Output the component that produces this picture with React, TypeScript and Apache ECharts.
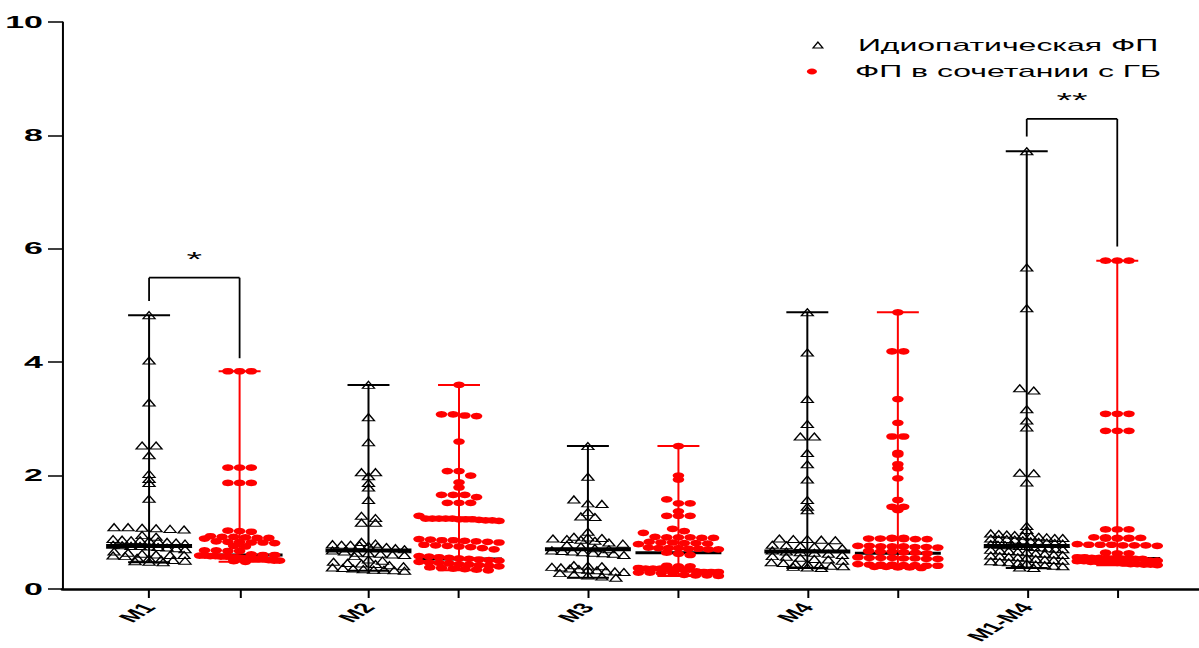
import React, { useEffect, useRef } from "react";
import * as echarts from "echarts";

// ---------- data ----------
const CATEGORIES = ["M1", "M2", "M3", "M4", "M1-M4"];
const SERIES_NAMES = ["Идиопатическая ФП", "ФП в сочетании с ГБ"];

const IDIO_M1 = [4.83, 4.03, 3.29, 2.53, 2.53, 2.36, 2.03, 1.94, 1.87, 1.59,
  1.09, 1.09, 1.07, 1.06, 1.05, 1.08,
  0.95, 0.92, 0.88, 0.87, 0.86, 0.86, 0.85, 0.84, 0.83, 0.82,
  0.8, 0.78, 0.77, 0.76, 0.76, 0.75, 0.74, 0.73, 0.72, 0.7,
  0.66, 0.64, 0.62, 0.61, 0.6, 0.6, 0.59, 0.58,
  0.55, 0.54, 0.52, 0.51, 0.5, 0.49, 0.48, 0.47];
const IDIO_M2 = [3.6, 3.03, 2.59, 2.06, 2.06, 1.99, 1.87, 1.79, 1.57, 1.29, 1.25, 1.17, 1.17,
  0.83, 0.8, 0.79, 0.78, 0.78, 0.77, 0.76, 0.75, 0.74, 0.72,
  0.7, 0.68, 0.66, 0.64, 0.63, 0.62, 0.61, 0.6, 0.58,
  0.52, 0.5, 0.48, 0.46, 0.45, 0.44, 0.42,
  0.4, 0.38, 0.37, 0.36, 0.35, 0.34, 0.34, 0.33, 0.32];
const IDIO_M3 = [2.52, 1.98, 1.58, 1.51, 1.5, 1.36, 1.28, 1.27, 1.01,
  0.92, 0.91, 0.9, 0.89, 0.88, 0.87, 0.85, 0.82, 0.8, 0.78, 0.75,
  0.72, 0.7, 0.68, 0.67, 0.66, 0.65, 0.64, 0.63, 0.62, 0.6,
  0.42, 0.41, 0.4, 0.39, 0.38, 0.36, 0.35, 0.34, 0.33, 0.32, 0.31, 0.3, 0.28, 0.26, 0.24, 0.22, 0.2];
const IDIO_M4 = [4.88, 4.17, 3.35, 2.91, 2.69, 2.69, 2.4, 2.2, 1.93, 1.57, 1.45, 1.39,
  0.89, 0.88, 0.88, 0.87, 0.86,
  0.78, 0.77, 0.76, 0.75, 0.74, 0.72,
  0.68, 0.66, 0.65, 0.64, 0.62, 0.6, 0.58, 0.57, 0.55, 0.53, 0.52, 0.5,
  0.47, 0.46, 0.45, 0.44, 0.42, 0.41, 0.4, 0.39, 0.38, 0.37];
const IDIO_ALL = [7.72, 5.67, 4.95, 3.54, 3.5, 3.17, 2.97, 2.85, 2.05, 2.04, 1.88, 1.11, 1.04,
  0.98, 0.97, 0.96, 0.95, 0.94, 0.93, 0.92, 0.91, 0.9, 0.9, 0.89, 0.88, 0.88, 0.87, 0.86,
  0.84, 0.83, 0.82, 0.81, 0.8, 0.79, 0.78, 0.77, 0.77, 0.76, 0.76,
  0.74, 0.73, 0.72, 0.71, 0.7, 0.69, 0.68, 0.67, 0.66, 0.65,
  0.63, 0.62, 0.61, 0.6, 0.59, 0.58, 0.57, 0.56, 0.55,
  0.53, 0.52, 0.51, 0.5, 0.49, 0.48, 0.47, 0.46, 0.45,
  0.43, 0.42, 0.41, 0.4, 0.38, 0.37];

const GB_M1 = [3.84, 3.84, 3.84, 2.14, 2.14, 2.14, 1.87, 1.87, 1.87,
  1.03, 1.02, 1.01,
  0.93, 0.92, 0.92, 0.91, 0.9, 0.9, 0.89,
  0.84, 0.83, 0.83, 0.82, 0.82, 0.81,
  0.76, 0.75, 0.68, 0.68, 0.67, 0.67,
  0.61, 0.6, 0.6, 0.59, 0.59, 0.58, 0.58, 0.57, 0.57, 0.56, 0.56, 0.55,
  0.54, 0.53, 0.53, 0.52, 0.51, 0.5, 0.5, 0.49, 0.48];
const GB_M2 = [3.6, 3.08, 3.08, 3.06, 3.05, 2.6, 2.08, 2.08, 2.0, 1.88, 1.79, 1.66, 1.66, 1.66, 1.62,
  1.52, 1.52, 1.52, 1.29,
  1.24, 1.24, 1.24, 1.24, 1.24, 1.23, 1.23, 1.23, 1.22, 1.21, 1.21, 1.2,
  0.88, 0.87, 0.86, 0.86, 0.85, 0.84, 0.83, 0.82,
  0.78, 0.77, 0.76, 0.75, 0.74, 0.72, 0.7,
  0.58, 0.57, 0.56, 0.55, 0.54, 0.53, 0.52, 0.51, 0.5,
  0.48, 0.47, 0.46, 0.45, 0.44, 0.43, 0.42, 0.41,
  0.4, 0.38, 0.37, 0.36, 0.35, 0.34, 0.33];
const GB_M3 = [2.52, 2.0, 1.93, 1.58, 1.51, 1.51, 1.37, 1.29, 1.29, 1.29, 1.06, 1.02, 0.99,
  0.92, 0.91, 0.91, 0.91, 0.9, 0.9,
  0.83, 0.82, 0.82, 0.81, 0.81, 0.8, 0.79,
  0.73, 0.72, 0.72, 0.72, 0.71, 0.71, 0.7, 0.7,
  0.64, 0.62, 0.6,
  0.41, 0.4, 0.4,
  0.37, 0.36, 0.36, 0.36, 0.35, 0.35, 0.35, 0.34,
  0.31, 0.3, 0.3, 0.3, 0.29, 0.29, 0.28, 0.28,
  0.25, 0.24, 0.24, 0.23];
const GB_M4 = [4.88, 4.19, 4.19, 3.35, 2.93, 2.69, 2.69, 2.4, 2.37, 2.2, 2.13, 1.95, 1.57, 1.45, 1.45, 1.39,
  0.9, 0.9, 0.89, 0.89, 0.89, 0.88, 0.88, 0.88,
  0.76, 0.76, 0.75, 0.75, 0.75, 0.74, 0.74, 0.73,
  0.67, 0.66, 0.66, 0.65, 0.64, 0.63,
  0.56, 0.55, 0.55, 0.55, 0.54, 0.54, 0.53, 0.53,
  0.44, 0.43, 0.43, 0.43, 0.42, 0.42, 0.41, 0.41,
  0.39, 0.39, 0.38, 0.38, 0.37];
const GB_ALL = [5.79, 5.79, 5.79, 3.09, 3.09, 3.09, 2.79, 2.79, 2.79, 1.05, 1.05, 1.05,
  0.91, 0.91, 0.9, 0.9, 0.9, 0.89, 0.89, 0.89,
  0.79, 0.78, 0.78, 0.78, 0.77, 0.77, 0.77, 0.76,
  0.64, 0.63, 0.63,
  0.56, 0.56, 0.55, 0.55, 0.55, 0.54, 0.54, 0.54, 0.53, 0.53,
  0.5, 0.5, 0.49, 0.49, 0.48, 0.48, 0.47, 0.47, 0.46,
  0.45, 0.44, 0.44, 0.43, 0.43, 0.42];

const IDIO_GROUPS = [IDIO_M1, IDIO_M2, IDIO_M3, IDIO_M4, IDIO_ALL];
const GB_GROUPS = [GB_M1, GB_M2, GB_M3, GB_M4, GB_ALL];
const IDIO_MEDIANS = [0.76, 0.68, 0.7, 0.66, 0.76];
const GB_MEDIANS = [0.6, 0.53, 0.64, 0.63, 0.54];

// significance brackets
const BRACKET_CATS = [0, 4];
const BRACKET_TOPS = [5.49, 8.29];
const BRACKET_LEFT_ENDS = [5.08, 7.98];
const BRACKET_RIGHT_ENDS = [4.07, 6.04];
const BRACKET_LABELS = ["*", "**"];

// ---------- layout ----------
const BASE_W = 600;
const H = 648;
const STRETCH = 1199 / BASE_W;
const GRID_LEFT = 31.5;
const GRID_TOP = 22;
const GRID_BOTTOM = 59;
const PX_PER_UNIT = 109.8;
const X_MIN = -(74.6 - GRID_LEFT) / PX_PER_UNIT;
const X_MAX = X_MIN + (BASE_W - GRID_LEFT) / PX_PER_UNIT;
const RED_SHIFT = 45.3 / PX_PER_UNIT;
const FONT = "'Liberation Sans', Arial, sans-serif";

function swarm(values: number[], pos: number, bin: number, spacing: number, maxHalf: number) {
  const bins = new Map<number, number[]>();
  values.forEach((v) => {
    const k = Math.floor(v / bin + 1e-6);
    if (!bins.has(k)) bins.set(k, []);
    bins.get(k)!.push(v);
  });
  const out: number[][] = [];
  bins.forEach((vs) => {
    const n = vs.length;
    let d = spacing;
    if (n > 1 && ((n - 1) * d) / 2 > maxHalf) d = (2 * maxHalf) / (n - 1);
    vs.slice().sort((a, b) => b - a).forEach((v, k) => {
      const off = (k - (n - 1) / 2) * d;
      out.push([pos + off / PX_PER_UNIT, v]);
    });
  });
  return out;
}

function buildOption() {
  const idioPts: number[][] = [];
  const gbPts: number[][] = [];
  IDIO_GROUPS.forEach((g, i) => idioPts.push(...swarm(g, i, 0.1, 7, 18)));
  GB_GROUPS.forEach((g, i) => gbPts.push(...swarm(g, i + RED_SHIFT, 0.1, 5.85, 20)));

  const whiskerData: number[][] = [];
  IDIO_GROUPS.forEach((g, i) => whiskerData.push([i, Math.min(...g), Math.max(...g), IDIO_MEDIANS[i], 0]));
  GB_GROUPS.forEach((g, i) => whiskerData.push([i + RED_SHIFT, Math.min(...g), Math.max(...g), GB_MEDIANS[i], 1]));

  const bracketData = BRACKET_CATS.map((c, i) => [c, c + RED_SHIFT, BRACKET_TOPS[i], BRACKET_LEFT_ENDS[i], BRACKET_RIGHT_ENDS[i]]);

  const tickPositions: number[] = [];
  CATEGORIES.forEach((_, i) => tickPositions.push(i, i + RED_SHIFT));
  const labelPositions = CATEGORIES.map((_, i) => i);

  return {
    animation: false,
    backgroundColor: "#ffffff",
    grid: { left: GRID_LEFT, right: 0, top: GRID_TOP, bottom: GRID_BOTTOM, containLabel: false, outerBoundsMode: "none" },
    xAxis: {
      type: "value",
      min: X_MIN,
      max: X_MAX,
      splitLine: { show: false },
      axisLine: { show: true, onZero: false, lineStyle: { color: "#000", width: 2.5 } },
      axisTick: { show: true, customValues: tickPositions, length: 9, lineStyle: { color: "#000", width: 1 } },
      axisLabel: {
        show: true,
        customValues: labelPositions,
        formatter: (v: number) => CATEGORIES[Math.round(v)] ?? "",
        rotate: 52,
        margin: 16,
        color: "#000",
        fontFamily: FONT,
        fontWeight: "bold",
        fontSize: 14,
        hideOverlap: false,
      },
    },
    yAxis: {
      type: "value",
      min: 0,
      max: 10,
      interval: 2,
      splitLine: { show: false },
      axisLine: { show: true, onZero: false, lineStyle: { color: "#000", width: 1 } },
      axisTick: { show: true, length: 7.5, lineStyle: { color: "#000", width: 1.5 } },
      axisLabel: { margin: 10, color: "#000", fontFamily: FONT, fontWeight: "bold", fontSize: 17 },
    },
    series: [
      {
        type: "custom",
        name: "whiskers",
        z: 1,
        silent: true,
        data: whiskerData,
        renderItem: (params: any, api: any) => {
          const x = api.value(0);
          const pMin = api.coord([x, api.value(1)]);
          const pMax = api.coord([x, api.value(2)]);
          const pMed = api.coord([x, api.value(3)]);
          const red = api.value(4) === 1;
          const col = red ? "#ff0000" : "#000000";
          const cap = 10.5;
          const med = 21.5;
          return {
            type: "group",
            children: [
              { type: "line", shape: { x1: pMin[0], y1: pMin[1], x2: pMax[0], y2: pMax[1] }, style: { stroke: col, lineWidth: 1 } },
              { type: "line", shape: { x1: pMax[0] - cap, y1: pMax[1], x2: pMax[0] + cap, y2: pMax[1] }, style: { stroke: col, lineWidth: 2 } },
              { type: "line", shape: { x1: pMin[0] - cap, y1: pMin[1], x2: pMin[0] + cap, y2: pMin[1] }, style: { stroke: col, lineWidth: 2 } },
              { type: "line", shape: { x1: pMed[0] - med, y1: pMed[1], x2: pMed[0] + med, y2: pMed[1] }, style: { stroke: "#000", lineWidth: red ? 3 : 4 } },
            ],
          };
        },
      },
      {
        type: "scatter",
        name: SERIES_NAMES[0],
        z: 3,
        symbol: "triangle",
        symbolSize: [6, 7],
        itemStyle: { color: "rgba(0,0,0,0)", borderColor: "#000", borderWidth: 0.9, opacity: 1 },
        data: idioPts,
      },
      {
        type: "scatter",
        name: SERIES_NAMES[1],
        z: 2,
        symbol: "circle",
        symbolSize: [5.8, 6.7],
        itemStyle: { color: "#ff0000", opacity: 1 },
        data: gbPts,
      },
      {
        type: "custom",
        name: "brackets",
        z: 4,
        silent: true,
        data: bracketData,
        renderItem: (params: any, api: any) => {
          const l = api.value(0);
          const r = api.value(1);
          const tl = api.coord([l, api.value(2)]);
          const tr = api.coord([r, api.value(2)]);
          const bl = api.coord([l, api.value(3)]);
          const br = api.coord([r, api.value(4)]);
          return {
            type: "group",
            children: [
              { type: "line", shape: { x1: tl[0], y1: tl[1], x2: tr[0], y2: tr[1] }, style: { stroke: "#000", lineWidth: 1.7 } },
              { type: "line", shape: { x1: tl[0], y1: tl[1], x2: bl[0], y2: bl[1] }, style: { stroke: "#000", lineWidth: 0.9 } },
              { type: "line", shape: { x1: tr[0], y1: tr[1], x2: br[0], y2: br[1] }, style: { stroke: "#000", lineWidth: 0.9 } },
              {
                type: "text",
                x: (tl[0] + tr[0]) / 2,
                y: tl[1] - 19,
                style: { text: BRACKET_LABELS[params.dataIndex], fill: "#000", fontFamily: FONT, fontSize: 20, align: "center", verticalAlign: "middle" },
              },
            ],
          };
        },
      },
    ],
    graphic: [
      { type: "polygon", shape: { points: [[406.8, 48], [411.8, 48], [409.3, 42]] }, style: { fill: "transparent", stroke: "#000", lineWidth: 0.8 } },
      { type: "text", x: 429.3, y: 45, style: { text: SERIES_NAMES[0], fill: "#000", fontFamily: FONT, fontSize: 16, verticalAlign: "middle" } },
      { type: "ellipse", shape: { cx: 406.3, cy: 71.5, rx: 2.5, ry: 3 }, style: { fill: "#ff0000" } },
      { type: "text", x: 427.8, y: 71, style: { text: SERIES_NAMES[1], fill: "#000", fontFamily: FONT, fontSize: 16, verticalAlign: "middle" } },
    ],
  };
}

export default function App() {
  const ref = useRef<HTMLDivElement>(null);
  useEffect(() => {
    const chart = echarts.init(ref.current!, null, { renderer: "svg" });
    chart.setOption(buildOption() as any);
    return () => chart.dispose();
  }, []);
  return (
    <div
      style={{
        position: "fixed",
        left: 0,
        top: 0,
        width: BASE_W,
        height: H,
        transform: `scaleX(${STRETCH})`,
        transformOrigin: "0 0",
        background: "#fff",
      }}
    >
      <div ref={ref} style={{ width: BASE_W, height: H }} />
    </div>
  );
}
